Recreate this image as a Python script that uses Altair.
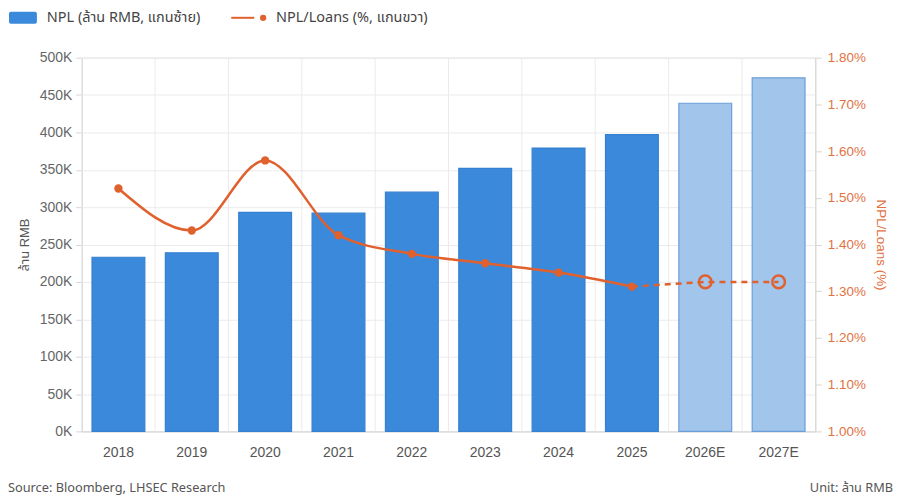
import altair as alt
import pandas as pd

# ---- data ----
years = ["2018", "2019", "2020", "2021", "2022", "2023", "2024", "2025", "2026E", "2027E"]
npl = [233000, 239000, 293000, 292000, 320000, 352000, 379000, 397000, 439000, 473000]
ratio = [1.52, 1.43, 1.58, 1.42, 1.38, 1.36, 1.34, 1.31, 1.32, 1.32]
is_forecast = [False, False, False, False, False, False, False, False, True, True]
legend_labels = ["NPL (ล้าน RMB, แกนซ้าย)", "NPL/Loans (%, แกนขวา)"]
left_title = "ล้าน RMB"
right_title = "NPL/Loans (%)"
source_text = "Source: Bloomberg, LHSEC Research"
unit_text = "Unit: ล้าน RMB"
npl_ticks = [0, 50000, 100000, 150000, 200000, 250000, 300000, 350000, 400000, 450000, 500000]
pct_ticks = [1.0, 1.1, 1.2, 1.3, 1.4, 1.5, 1.6, 1.7, 1.8]

df = pd.DataFrame({"year": years, "npl": npl, "ratio": ratio, "forecast": is_forecast})
df["kind"] = ["Forecast" if f else "Actual" for f in is_forecast]
actual = df[~df["forecast"]]
fc = df[df["forecast"]]
fc_line = df.iloc[7:]
one = pd.DataFrame({"k": [0]})

W, H = 736, 375
FONT = "Noto Sans, Noto Sans Thai, DejaVu Sans, sans-serif"
AXFONT = "Liberation Sans, Arial, Noto Sans Thai, sans-serif"
BAR = "#3a89db"
BAR_FC = "#a2c5eb"
BAR_FC_STROKE = "#6b9fd8"
LINE = "#e0602e"
AXIS_ORANGE = "#e2713f"
GRID = "#ebebeb"
DOMAIN = "#d6d6d6"

x_axis = alt.Axis(title=None, ticks=False, labelAngle=0, labelPadding=14, labelFontSize=14,
                  labelFont=AXFONT, labelColor="#555", domainColor=DOMAIN, grid=False)
x_scale = alt.Scale(paddingInner=0, paddingOuter=0)

def xenc(**kw):
    return alt.X("year:N", sort=years, scale=x_scale, axis=x_axis, **kw)

y_left = alt.Y("npl:Q", scale=alt.Scale(domain=[0, 500000]),
               axis=alt.Axis(values=npl_ticks, labelExpr="format(datum.value/1000,'d')+'K'",
                             title=left_title, grid=True, gridColor=GRID, domainColor=DOMAIN,
                             tickColor=DOMAIN, tickSize=6, labelColor="#666", labelFontSize=14,
                             labelFont=AXFONT, titleFont=AXFONT,
                             titleColor="#555", titleFontSize=13, titleFontWeight="normal",
                             titlePadding=8, labelPadding=4))

y_right = alt.Y("ratio:Q", scale=alt.Scale(domain=[1.0, 1.8], zero=False),
                axis=alt.Axis(orient="right", values=pct_ticks,
                              labelExpr="format(datum.value,'.2f')+'%'",
                              title=right_title, grid=False, domainColor=DOMAIN, tickColor=DOMAIN,
                              tickSize=6, labelColor=AXIS_ORANGE, labelFontSize=13.5,
                              labelFont=AXFONT, titleFont=AXFONT,
                              titleColor=AXIS_ORANGE, titleFontSize=13.5, titleFontWeight="normal",
                              titlePadding=8, labelPadding=6))

grid_v = alt.Chart(df).mark_rule(color=GRID, strokeWidth=1).encode(
    x=xenc(bandPosition=0))

bars = alt.Chart(df).mark_bar(width=alt.RelativeBandSize(0.72), strokeWidth=1.2).encode(
    x=xenc(),
    y=y_left,
    color=alt.Color("kind:N", scale=alt.Scale(domain=["Actual", "Forecast"], range=[BAR, BAR_FC]), legend=None),
    stroke=alt.Stroke("kind:N", scale=alt.Scale(domain=["Actual", "Forecast"], range=["#3580d0", BAR_FC_STROKE]), legend=None),
)

left_group = alt.layer(grid_v, bars)

line_solid = alt.Chart(actual).mark_line(color=LINE, strokeWidth=2.5, interpolate="monotone").encode(
    x=xenc(), y=y_right)
line_dash = alt.Chart(fc_line).mark_line(color=LINE, strokeWidth=2.5, strokeDash=[6, 5]).encode(
    x=xenc(), y=y_right)
pts = alt.Chart(actual).mark_point(filled=True, color=LINE, size=70, opacity=1).encode(
    x=xenc(), y=y_right)
pts_fc = alt.Chart(fc).mark_point(filled=False, color=LINE, size=160, strokeWidth=2.5, opacity=1).encode(
    x=xenc(), y=y_right)

right_group = alt.layer(line_solid, line_dash, pts, pts_fc)

# ---- legend & footer decorations ----
leg_rect = alt.Chart(one).mark_rect(color=BAR, cornerRadius=2).encode(
    x=alt.value(-73), x2=alt.value(-45), y=alt.value(-46), y2=alt.value(-34))
leg_t1 = alt.Chart(one).mark_text(align="left", baseline="middle", fontSize=14.5, color="#444").encode(
    x=alt.value(-35), y=alt.value(-40), text=alt.value(legend_labels[0]))
leg_line = alt.Chart(one).mark_rule(color=LINE, strokeWidth=2).encode(
    x=alt.value(150), x2=alt.value(173), y=alt.value(-40))
leg_pt = alt.Chart(one).mark_point(filled=True, color=LINE, size=40, opacity=1).encode(
    x=alt.value(182), y=alt.value(-40))
leg_t2 = alt.Chart(one).mark_text(align="left", baseline="middle", fontSize=14.5, color="#444").encode(
    x=alt.value(195), y=alt.value(-40), text=alt.value(legend_labels[1]))
foot_l = alt.Chart(one).mark_text(align="left", baseline="middle", fontSize=12.8, color="#555").encode(
    x=alt.value(-74), y=alt.value(432), text=alt.value(source_text))
foot_r = alt.Chart(one).mark_text(align="right", baseline="middle", fontSize=12.8, color="#555").encode(
    x=alt.value(814), y=alt.value(432), text=alt.value(unit_text))

chart = alt.layer(
    left_group, right_group,
    leg_rect, leg_t1, leg_line, leg_pt, leg_t2, foot_l, foot_r,
).resolve_scale(y="independent").properties(
    width=W, height=H,
    padding={"left": 0, "top": 1, "right": 5, "bottom": 3},
).configure_view(stroke=None).configure(font=FONT)

chart.save("out.html", embed_options={"renderer": "svg", "actions": False})
